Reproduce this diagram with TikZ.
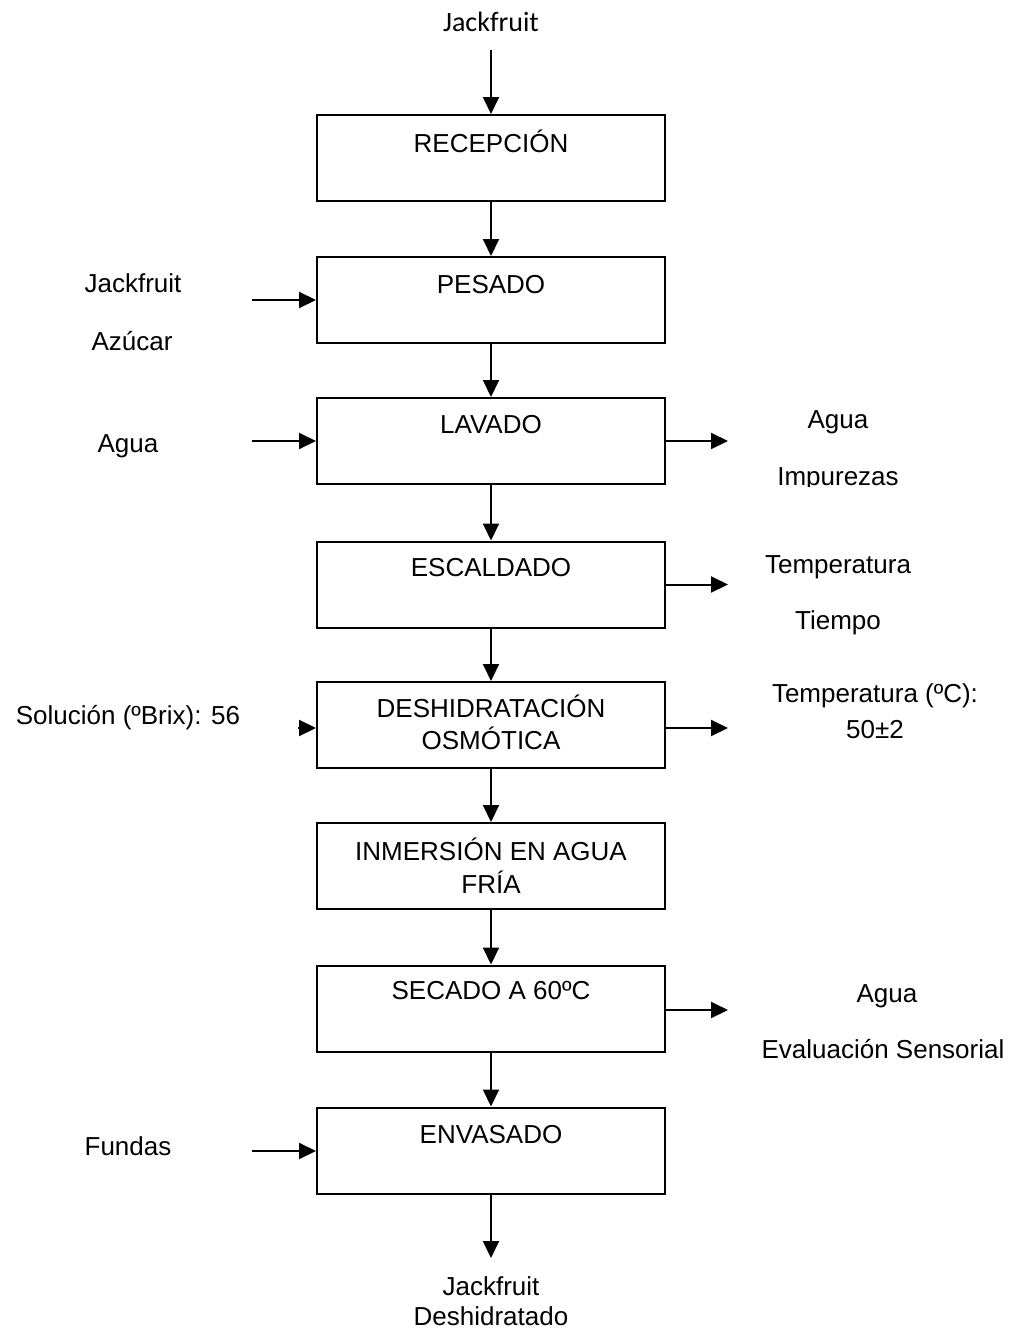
\documentclass[tikz,border=0pt]{standalone}
\usepackage{fontspec}
\setmainfont{Liberation Sans}
\newfontfamily\calibri{Carlito}
\usetikzlibrary{arrows.meta}
\begin{document}
\begin{tikzpicture}[x=1pt,y=-1pt,
  box/.style={draw,line width=2pt,minimum width=348pt,minimum height=86pt,inner sep=0pt},
  txt/.style={anchor=base,inner sep=0pt,font=\fontsize{26}{31}\selectfont},
  flow/.style={line width=2pt,-{Triangle[length=17pt,width=16pt]}}]
\useasboundingbox (0,0) rectangle (1022,1330);

% process boxes
\node[box] (rec) at (491,158) {};
\node[box] (pes) at (491,300) {};
\node[box] (lav) at (491,441) {};
\node[box] (esc) at (491,584.5) {};
\node[box] (des) at (491,725) {};
\node[box] (inm) at (491,866) {};
\node[box] (sec) at (491,1008.5) {};
\node[box] (env) at (491,1150.5) {};

% box titles
\node[txt] (recT) at (491,152) {RECEPCIÓN};
\node[txt] (pesT) at (491,293) {PESADO};
\node[txt] (lavT) at (491,433) {LAVADO};
\node[txt] (escT) at (491,576) {ESCALDADO};
\node[txt] (desT1) at (491,717) {DESHIDRATACIÓN};
\node[txt] (desT2) at (491,749) {OSMÓTICA};
\node[txt] (inmT1) at (491,860) {INMERSIÓN EN AGUA};
\node[txt] (inmT2) at (491,893) {FRÍA};
\node[txt] (secT) at (491,999) {SECADO A 60ºC};
\node[txt] (envT) at (491,1143) {ENVASADO};

% product in and out
\node[anchor=base,inner sep=0pt,font=\calibri\fontsize{28}{33}\selectfont] (jIn) at (491,32) {Jackfruit};
\coordinate (jInEnd) at (491,50);
\node[txt] (jOut1) at (491,1295) {Jackfruit};
\node[txt] (jOut2) at (491,1325) {Deshidratado};
\coordinate (jOutEnd) at (491,1258);

% inputs (left)
\node[txt] (inPes1) at (133,292) {Jackfruit};
\node[txt] (inPes2) at (132,350) {Azúcar};
\node[txt] (inLav) at (128,452) {Agua};
\node[txt] (inDes) at (128,724) {Solución (ºBrix): 56};
\node[txt] (inEnv) at (128,1155) {Fundas};
\coordinate (pesIn) at (252,300);
\coordinate (lavIn) at (252,441);
\coordinate (desIn) at (298,728);
\coordinate (envIn) at (252,1151);

% outputs (right)
\node[txt] (outLav1) at (838,428) {Agua};
\begin{scope}
  \clip (700,450) rectangle (1000,486);
  \node[txt] (outLav2) at (838,485) {Impurezas};
\end{scope}
\node[txt] (outEsc1) at (838,573) {Temperatura};
\node[txt] (outEsc2) at (838,629) {Tiempo};
\node[txt] (outDes1) at (875,702) {Temperatura (ºC):};
\node[txt] (outDes2) at (875,738) {50±2};
\node[txt] (outSec1) at (887,1002) {Agua};
\node[txt] (outSec2) at (883,1058) {Evaluación Sensorial};
\coordinate (lavOut) at (728,441);
\coordinate (escOut) at (728,584.5);
\coordinate (desOut) at (728,728);
\coordinate (secOut) at (728,1010);

% main flow
\draw[flow] (jInEnd) -- (rec.north);
\draw[flow] (rec.south) -- (pes.north);
\draw[flow] (pes.south) -- (lav.north);
\draw[flow] (lav.south) -- (esc.north);
\draw[flow] (esc.south) -- (des.north);
\draw[flow] (des.south) -- (inm.north);
\draw[flow] (inm.south) -- (sec.north);
\draw[flow] (sec.south) -- (env.north);
\draw[flow] (env.south) -- (jOutEnd);

% side streams
\draw[flow] (pesIn) -- (pesIn -| pes.west);
\draw[flow] (lavIn) -- (lavIn -| lav.west);
\draw[flow] (desIn) -- (desIn -| des.west);
\draw[flow] (envIn) -- (envIn -| env.west);
\draw[flow] (lavOut -| lav.east) -- (lavOut);
\draw[flow] (escOut -| esc.east) -- (escOut);
\draw[flow] (desOut -| des.east) -- (desOut);
\draw[flow] (secOut -| sec.east) -- (secOut);
\end{tikzpicture}
\end{document}
